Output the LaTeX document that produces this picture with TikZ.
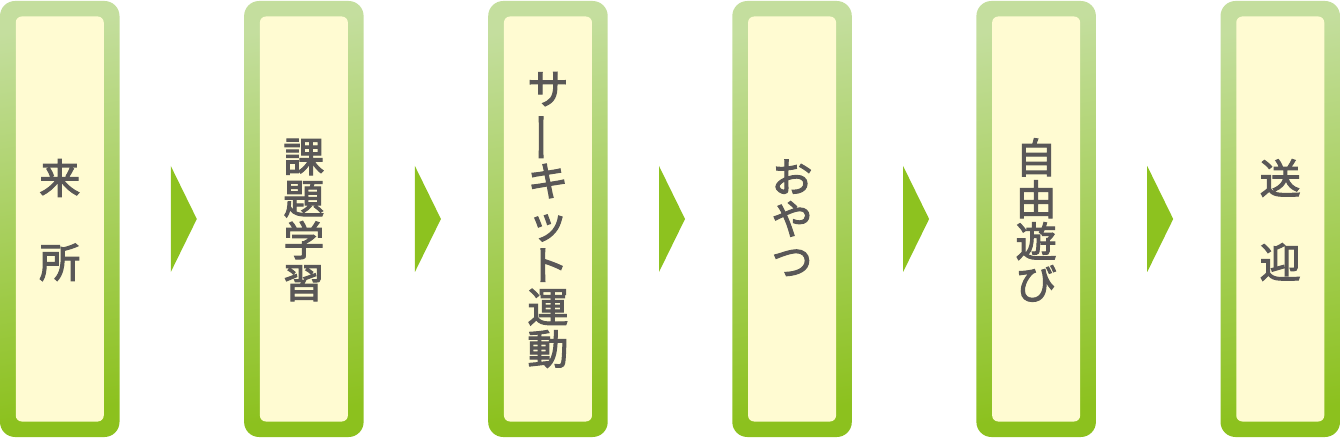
\documentclass[tikz,border=0pt]{standalone}
\usepackage{fontspec}
\usetikzlibrary{calc}
\newfontfamily\cjk[FakeBold=2.6]{Noto Sans CJK JP}
\definecolor{gtop}{HTML}{C4DE9E}
\definecolor{gbot}{HTML}{8CC11E}
\definecolor{innerc}{HTML}{FFFBD2}
\definecolor{textc}{HTML}{595757}
\definecolor{arrowc}{HTML}{8DC21F}
\newcommand{\vbar}{\rotatebox[origin=c]{90}{\scalebox{1.25}[1]{ー}}}
\tikzset{
  outerbox/.style={rectangle, rounded corners=15pt, minimum width=119.5pt, minimum height=436pt, inner sep=0pt,
    top color=gtop, bottom color=gbot, shading angle=10, draw=none},
  innerbox/.style={rectangle, rounded corners=6pt, minimum width=88pt, minimum height=405pt, inner sep=0pt, fill=innerc, draw=none},
  label/.style={align=center, inner sep=0pt, text=textc, font=\cjk\fontsize{41}{42}\selectfont},
  flowarrow/.style={fill=arrowc, draw=none}
}
\begin{document}
\begin{tikzpicture}[x=1pt,y=-1pt]
\useasboundingbox (0,0) rectangle (1341,438);
\foreach \i in {1,...,6}{
  \node[outerbox] (b\i) at ({59.75+244.1*(\i-1)},219) {};
  \node[innerbox] (in\i) at (b\i) {};
}
\node[label] (t1) at ($(in1)+(0,1)$) {来\\　\\所};
\node[label] (t2) at ($(in2)+(0,1)$) {課\\題\\学\\習};
\node[label] (t3) at ($(in3)+(0,1)$) {サ\\\vbar\\キ\\ッ\\ト\\運\\動};
\node[label] (t4) at ($(in4)+(0,-1)$) {お\\や\\つ};
\node[label] (t5) at ($(in5)+(0,1)$) {自\\由\\遊\\び};
\node[label] (t6) at ($(in6)+(0,1)$) {送\\　\\迎};
\foreach \i/\j in {1/2,2/3,3/4,4/5,5/6}{
  \coordinate (m\i) at ($(b\i.east)!0.5!(b\j.west)$);
  \fill[flowarrow] ($(m\i)+(-11,-53)$) -- ($(m\i)+(15,0)$) -- ($(m\i)+(-11,53)$) -- cycle;
}
\end{tikzpicture}
\end{document}
